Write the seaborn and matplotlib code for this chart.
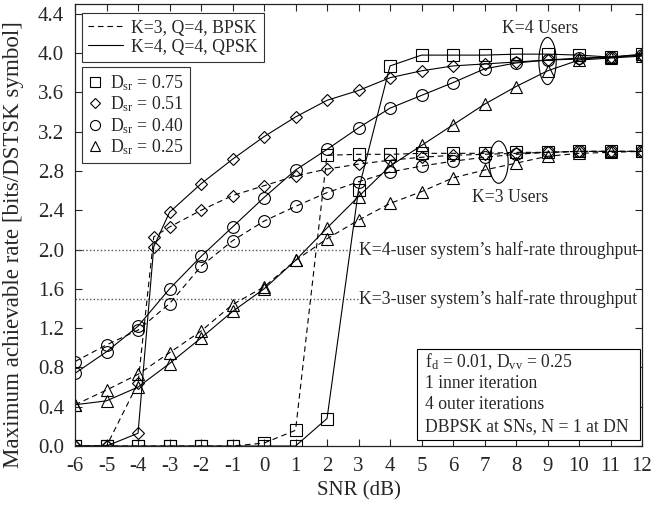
import matplotlib
matplotlib.use("Agg")
import matplotlib.pyplot as plt
from matplotlib.lines import Line2D
from matplotlib.patches import Ellipse, Rectangle
import seaborn as sns
import numpy as np

sns.set_style("ticks")
plt.rcParams["font.family"] = ["Liberation Serif", "DejaVu Serif"]
plt.rcParams["mathtext.fontset"] = "custom"
plt.rcParams["mathtext.rm"] = "Liberation Serif"
plt.rcParams["mathtext.it"] = "Liberation Serif:italic"
plt.rcParams["axes.unicode_minus"] = False

# SNR grids (the D_sr = 0.51 runs have an extra point at -3.5 dB)
snr = [-6, -5, -4, -3, -2, -1, 0, 1, 2, 3, 4, 5, 6, 7, 8, 9, 10, 11, 12]
snr_d = [-6, -5, -4, -3.5, -3, -2, -1, 0, 1, 2, 3, 4, 5, 6, 7, 8, 9, 10, 11, 12]

# K=4, Q=4, QPSK
k4_d075 = [0, 0, 0, 0, 0, 0, 0, 0, 0.28, 2.61, 3.87, 3.98, 3.98, 3.98, 3.99, 3.99, 3.98, 3.96, 3.99]
k4_d051 = [0.0, 0.0, 0.13, 2.03, 2.38, 2.67, 2.92, 3.15, 3.35, 3.52, 3.62, 3.75, 3.82, 3.87, 3.89, 3.91, 3.93, 3.94, 3.96, 3.98]
k4_d040 = [0.74, 0.96, 1.22, 1.60, 1.93, 2.23, 2.53, 2.81, 3.02, 3.24, 3.44, 3.57, 3.70, 3.84, 3.90, 3.93, 3.95, 3.96, 3.98]
k4_d025 = [0.42, 0.46, 0.60, 0.84, 1.10, 1.37, 1.60, 1.89, 2.22, 2.54, 2.85, 3.06, 3.27, 3.48, 3.66, 3.82, 3.93, 3.95, 3.97]

# K=3, Q=4, BPSK
k3_d075 = [0, 0, 0, 0, 0, 0, 0.03, 0.16, 2.96, 2.97, 2.97, 2.98, 2.98, 2.98, 2.99, 2.99, 3.0, 3.0, 3.0]
k3_d051 = [0.0, 0.0, 0.64, 2.13, 2.23, 2.40, 2.55, 2.65, 2.75, 2.82, 2.87, 2.91, 2.94, 2.96, 2.97, 2.98, 2.99, 3.0, 3.0, 3.0]
k3_d040 = [0.86, 1.03, 1.18, 1.45, 1.83, 2.09, 2.29, 2.44, 2.58, 2.69, 2.79, 2.85, 2.90, 2.94, 2.97, 2.99, 3.0, 3.0, 3.0]
k3_d025 = [0.42, 0.57, 0.73, 0.95, 1.17, 1.44, 1.62, 1.89, 2.11, 2.30, 2.47, 2.59, 2.73, 2.81, 2.88, 2.95, 2.98, 2.99, 3.0]

dsr_labels = [r"D$_{\mathrm{sr}}$ = 0.75", r"D$_{\mathrm{sr}}$ = 0.51",
              r"D$_{\mathrm{sr}}$ = 0.40", r"D$_{\mathrm{sr}}$ = 0.25"]
system_labels = ["K=3, Q=4, BPSK", "K=4, Q=4, QPSK"]
yticks = [0.0, 0.4, 0.8, 1.2, 1.6, 2.0, 2.4, 2.8, 3.2, 3.6, 4.0, 4.4]

markers = ["s", "D", "o", "^"]
msizes = [8, 6.2, 8.5, 8.5]
dash = (5, 3.5)

fig = plt.figure(figsize=(6.53, 5.05), dpi=100)
ax = fig.add_axes([0.1149, 0.1168, 0.8683, 0.8752])

# half-rate reference levels
for level, txt in [(2.0, "K=4-user system\u2019s half-rate throughput"),
                   (1.5, "K=3-user system\u2019s half-rate throughput")]:
    ax.plot([-6, 3.02], [level, level], color="#555555", lw=1.0, ls=(0, (1, 1.6)))
    ax.text(3.03, level, txt, fontsize=12.7, va="center", ha="left")

series = [
    (snr, k3_d075, 0, "dashed"), (snr_d, k3_d051, 1, "dashed"),
    (snr, k3_d040, 2, "dashed"), (snr, k3_d025, 3, "dashed"),
    (snr, k4_d075, 0, "solid"), (snr_d, k4_d051, 1, "solid"),
    (snr, k4_d040, 2, "solid"), (snr, k4_d025, 3, "solid"),
]
for xs, ys, mi, style in series:
    kw = dict(dashes=dash) if style == "dashed" else dict(linestyle="-")
    sns.lineplot(x=xs, y=ys, ax=ax, color="black", lw=0.8,
                 marker=markers[mi], markersize=msizes[mi],
                 markerfacecolor="none", markeredgecolor="black",
                 markeredgewidth=0.8, estimator=None, errorbar=None,
                 sort=False, legend=False, **kw)

# user-group annotations
ax.add_patch(Ellipse((9.0, 3.92), 0.55, 0.48, fill=False, lw=0.8, ec="black"))
ax.text(8.76, 4.25, "K=4 Users", fontsize=12.7, ha="center", va="center")
ax.add_patch(Ellipse((7.45, 2.89), 0.6, 0.43, fill=False, lw=0.8, ec="black"))
ax.text(7.8, 2.53, "K=3 Users", fontsize=12.7, ha="center", va="center")

# simulation parameters box
ax.add_patch(Rectangle((0.6026, 0.0136), 0.3939, 0.2054, transform=ax.transAxes,
                       fill=True, fc="white", ec="black", lw=0.8, zorder=5))
params = [r"f$_{\mathrm{d}}$ = 0.01, D$_{\mathrm{vv}}$ = 0.25",
          "1 inner iteration", "4 outer iterations",
          "DBPSK at SNs, N = 1 at DN"]
for i, line in enumerate(params):
    ax.text(0.618, 0.19 - i * 0.0485, line, transform=ax.transAxes,
            fontsize=12.7, va="center", ha="left", zorder=6)

ax.set_xlim(-6, 12)
ax.set_ylim(0, 4.5)
ax.set_xticks(snr)
ax.set_yticks(yticks)
ax.set_yticklabels([f"{v:.1f}" for v in yticks])
ax.tick_params(direction="in", top=True, right=True, length=5, width=0.8,
               labelsize=15, pad=8)
for sp in ax.spines.values():
    sp.set_linewidth(0.9)
    sp.set_color("#222222")

ax.set_xlabel("SNR (dB)", fontsize=15)
ax.set_ylabel("Maximum achievable rate [bits/DSTSK symbol]", fontsize=16.6)
ax.xaxis.set_label_coords(0.5, -0.08)
ax.yaxis.set_label_coords(-0.09, 0.455)

line_handles = [Line2D([], [], color="black", lw=0.8, dashes=dash),
                Line2D([], [], color="black", lw=0.8, ls="-")]
leg1 = ax.legend(line_handles, system_labels, loc="upper left",
                 bbox_to_anchor=(0.0118, 0.979), borderaxespad=0,
                 fontsize=12.8, frameon=True, fancybox=False, framealpha=1,
                 edgecolor="#333333", handlelength=2.0, handletextpad=0.45,
                 labelspacing=0.12, borderpad=0.35)
leg1.get_frame().set_linewidth(0.8)
ax.add_artist(leg1)

marker_handles = [Line2D([], [], ls="none", marker=m, markersize=s * 0.85,
                         markerfacecolor="none", markeredgecolor="black",
                         markeredgewidth=0.8) for m, s in zip(markers, msizes)]
leg2 = ax.legend(marker_handles, dsr_labels, loc="upper left",
                 bbox_to_anchor=(0.0118, 0.858), borderaxespad=0,
                 fontsize=12.8, frameon=True, fancybox=False, framealpha=1,
                 edgecolor="#333333", handlelength=0.8, handletextpad=0.45,
                 labelspacing=0.1, borderpad=0.35)
leg2.get_frame().set_linewidth(0.8)

fig.savefig("out.png", dpi=100)
